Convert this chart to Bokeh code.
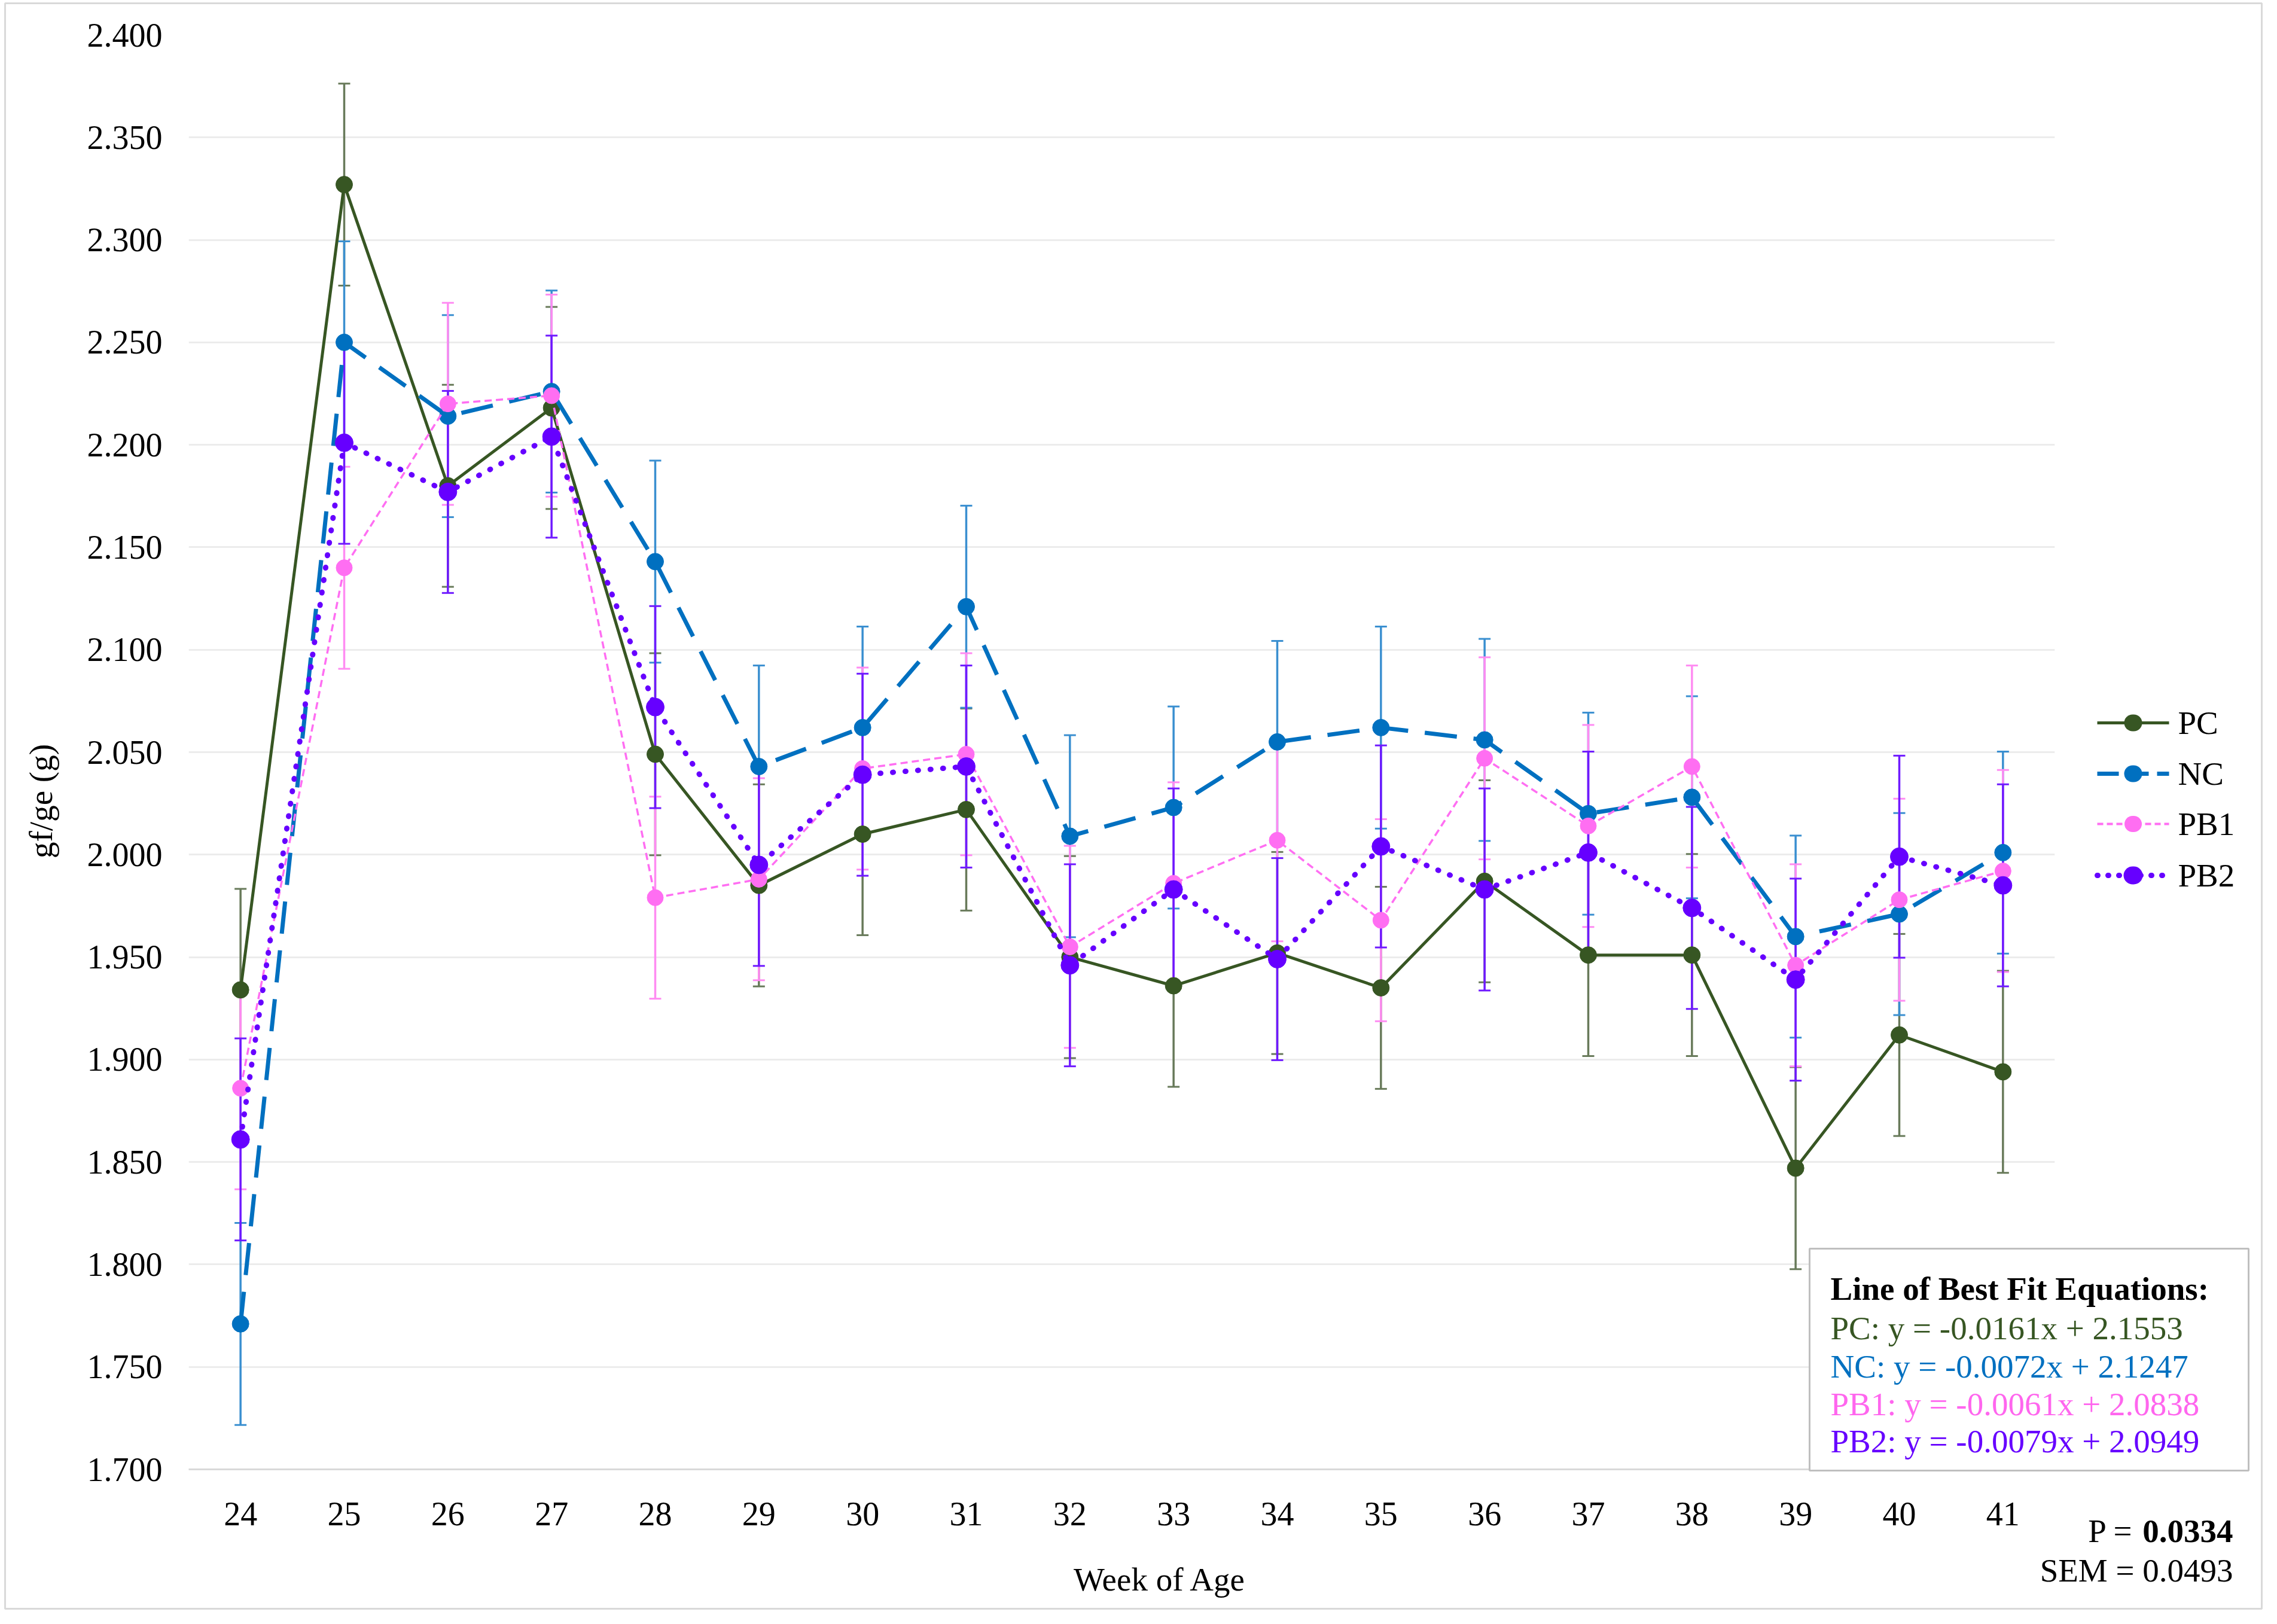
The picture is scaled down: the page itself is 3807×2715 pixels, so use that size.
import math
from bokeh.plotting import figure
from bokeh.models import (ColumnDataSource, Whisker, TeeHead, FixedTicker, PrintfTickFormatter)
from bokeh.core.properties import value
from bokeh.embed import file_html
from bokeh.resources import INLINE

# ---------------- data ----------------
weeks = list(range(24, 42))
pc  = [1.934, 2.327, 2.180, 2.218, 2.049, 1.985, 2.010, 2.022, 1.950, 1.936,
       1.952, 1.935, 1.987, 1.951, 1.951, 1.847, 1.912, 1.894]
nc  = [1.771, 2.250, 2.214, 2.226, 2.143, 2.043, 2.062, 2.121, 2.009, 2.023,
       2.055, 2.062, 2.056, 2.020, 2.028, 1.960, 1.971, 2.001]
pb1 = [1.886, 2.140, 2.220, 2.224, 1.979, 1.988, 2.042, 2.049, 1.955, 1.986,
       2.007, 1.968, 2.047, 2.014, 2.043, 1.946, 1.978, 1.992]
pb2 = [1.861, 2.201, 2.177, 2.204, 2.072, 1.995, 2.039, 2.043, 1.946, 1.983,
       1.949, 2.004, 1.983, 2.001, 1.974, 1.939, 1.999, 1.985]
sem = 0.0493
series_names = ["PC", "NC", "PB1", "PB2"]
y_ticks = [1.70, 1.75, 1.80, 1.85, 1.90, 1.95, 2.00, 2.05, 2.10, 2.15, 2.20, 2.25, 2.30, 2.35, 2.40]
equations = ["PC: y = -0.0161x + 2.1553",
             "NC: y = -0.0072x + 2.1247",
             "PB1: y = -0.0061x + 2.0838",
             "PB2: y = -0.0079x + 2.0949"]
eq_title = "Line of Best Fit Equations:"
p_label = "P ="
p_value = "0.0334"
sem_text = "SEM = 0.0493"
x_title = "Week of Age"
y_title = "gf/ge (g)"

# ---------------- styling ----------------
FONT = "Liberation Serif"
FS = "55px"
W, H = 3790, 2698
X0, X1 = 23.5, 41.5
Y0, Y1 = 1.7, 2.4
FL, FR, FT, FB = 315, 3435, 58, 2456  # frame in figure px

colors = {"PC": "#375623", "NC": "#0070c0", "PB1": "#ff6ef2", "PB2": "#6600ff"}
err_colors = {"PC": "#687a5a", "NC": "#3a8fd0", "PB1": "#ff8cf2", "PB2": "#6f1aff"}
text_colors = {"PC": "#375623", "NC": "#0070c0", "PB1": "#ff66ee", "PB2": "#6600ff"}
line_style = {
    "PC": dict(line_width=5, line_dash="solid", line_cap="butt"),
    "NC": dict(line_width=7, line_dash="54 28", line_cap="butt"),
    "PB1": dict(line_width=3.5, line_dash="12 7", line_cap="butt"),
    "PB2": dict(line_width=9, line_dash="1 20", line_cap="round"),
}
legend_style = {
    "PC": dict(line_width=5, line_dash="solid", line_cap="butt"),
    "NC": dict(line_width=7, line_dash="36 14", line_cap="butt"),
    "PB1": dict(line_width=4, line_dash="10 6", line_cap="butt"),
    "PB2": dict(line_width=9, line_dash="1 17", line_cap="round"),
}
marker_size = {"PC": 28, "NC": 28, "PB1": 27, "PB2": 30}


def dx(px):
    """page pixel -> data x"""
    return X0 + (px - 8 - FL) / (FR - FL) * (X1 - X0)


def dy(py):
    """page pixel -> data y"""
    return Y1 - (py - 8 - FT) / (FB - FT) * (Y1 - Y0)


p = figure(width=W, height=H, x_range=(X0, X1), y_range=(Y0, Y1),
           output_backend="svg", toolbar_location=None,
           min_border_left=FL, min_border_right=W - FR,
           min_border_top=FT, min_border_bottom=H - FB)
p.outline_line_color = None
p.background_fill_color = "white"
p.border_fill_color = "white"

p.xaxis.ticker = FixedTicker(ticks=weeks)
p.yaxis.ticker = FixedTicker(ticks=y_ticks)
p.yaxis.formatter = PrintfTickFormatter(format="%.3f")
for ax in (p.xaxis[0], p.yaxis[0]):
    ax.major_tick_line_color = None
    ax.minor_tick_line_color = None
    ax.major_tick_out = 0
    ax.major_tick_in = 0
    ax.major_label_text_font = FONT
    ax.major_label_text_font_size = "56px"
    ax.major_label_text_color = "#000000"
p.xaxis.major_label_standoff = 55
p.yaxis.major_label_standoff = 44
p.yaxis.axis_line_color = None
p.xaxis.axis_line_color = "#d9d9d9"
p.xaxis.axis_line_width = 3
p.xgrid.grid_line_color = None
p.ygrid.grid_line_color = "#ececec"
p.ygrid.grid_line_width = 3

data = {"PC": pc, "NC": nc, "PB1": pb1, "PB2": pb2}

# error bars
for name in series_names:
    vals = data[name]
    src = ColumnDataSource(dict(x=weeks, lo=[v - sem for v in vals], hi=[v + sem for v in vals]))
    ec = err_colors[name]
    w = Whisker(base="x", upper="hi", lower="lo", source=src, line_color=ec, line_width=3.5,
                upper_head=TeeHead(size=20, line_color=ec, line_width=3),
                lower_head=TeeHead(size=20, line_color=ec, line_width=3),
                level="underlay")
    p.add_layout(w)

for name in series_names:
    vals = data[name]
    c = colors[name]
    p.line(weeks, vals, line_color=c, **line_style[name])
    p.scatter(weeks, vals, marker="circle", size=marker_size[name],
              fill_color=c, line_color=c)

# outer chart border (overlay level -> not clipped to frame)
p.quad(left=[dx(16)], right=[dx(3789)], top=[dy(13)], bottom=[dy(2697)],
       fill_alpha=0, line_color="#d9d9d9", line_width=3, level="overlay")


def txt(px, py, s, color="#000000", align="left", style="normal", angle=0.0,
        baseline="alphabetic"):
    p.text(x=[dx(px)], y=[dy(py)], text=[s], text_font=value(FONT), text_font_size=FS,
           text_font_style=style, text_color=color, text_align=align,
           text_baseline=baseline, angle=angle, level="overlay")


# legend keys (drawn outside the frame at overlay level)
legend_rows = [1216, 1301, 1385, 1471]
for name, ry in zip(series_names, legend_rows):
    c = colors[name]
    p.line([dx(3514), dx(3634)], [dy(ry), dy(ry)], line_color=c, level="overlay",
           **legend_style[name])
    # key marker: a very short round-capped stroke (markers outside the frame are culled)
    p.line([dx(3573), dx(3575)], [dy(ry), dy(ry)], line_color=c, level="overlay",
           line_width=marker_size[name], line_cap="round")
    txt(3649, ry, name, baseline="middle")

# equations box
p.quad(left=[dx(3033)], right=[dx(3767)], top=[dy(2095)], bottom=[dy(2466)],
       fill_color="white", fill_alpha=1.0, line_color="#bfbfbf", line_width=3,
       level="overlay")
txt(3068, 2162, eq_title, style="bold")
eq_baselines = [2228, 2292, 2355, 2417]
for name, s, bl in zip(series_names, equations, eq_baselines):
    txt(3068, bl, s, color=text_colors[name])

txt(3574, 2567, p_label, align="right")
txt(3741, 2567, p_value, align="right", style="bold")
txt(3741, 2633, sem_text, align="right")

txt(1947, 2648, x_title, align="center")
txt(76, 1347, y_title, align="center", baseline="middle", angle=math.pi / 2)

open("out.html", "w").write(file_html(p, INLINE))
